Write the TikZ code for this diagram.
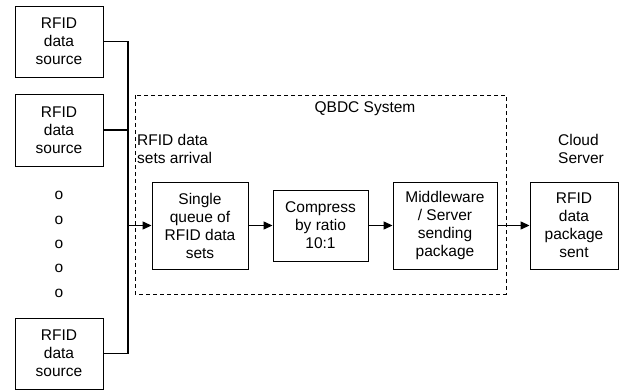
\documentclass[tikz,border=0pt]{standalone}
\usepackage{fontspec}
\setmainfont{Liberation Sans}
\usetikzlibrary{arrows.meta}
\tikzset{
  every node/.style={font=\fontsize{15.5}{18}\selectfont},
  blk/.style={draw, line width=0.9pt, align=center, inner sep=0pt},
  wire/.style={line width=1.3pt},
  arr/.style={wire, -{Triangle[length=9pt,width=8pt]}},
  frame/.style={draw, line width=0.8pt, dash pattern=on 4pt off 3pt},
  lbl/.style={align=left, inner sep=0pt}
}
\begin{document}
\begin{tikzpicture}[x=1pt, y=-1pt]
  \useasboundingbox (0,0) rectangle (620,390);

  % data sources
  \node[blk, minimum width=88pt, minimum height=71pt] (s1) at (59,41.5) {RFID\\data\\source};
  \node[blk, minimum width=88pt, minimum height=72pt] (s2) at (59,130) {RFID\\data\\source};
  \node[blk, minimum width=88pt, minimum height=71pt] (s3) at (59,353.5) {RFID\\data\\source};

  % ellipsis between sources
  \foreach \yy [count=\i] in {195,220,244,268.5,293}
    \node[inner sep=0pt] (dot\i) at (59,\yy) {o};

  % system boundary
  \draw[frame] (135,95) rectangle (506,294);
  \node (sys) at (365,109) {QBDC System};
  \node[lbl, anchor=north west] (arrival) at (137,134) {RFID data\\sets arrival};
  \node[lbl, anchor=north west] (cloud) at (558,134) {Cloud\\Server};

  % processing stages
  \node[blk, minimum width=96pt, minimum height=87pt] (q) at (200,225.5) {Single\\queue of\\RFID data\\sets};
  \node[blk, minimum width=95pt, minimum height=71pt] (c) at (320.5,225.5) {Compress\\by ratio\\10:1};
  \node[blk, minimum width=104pt, minimum height=87pt] (m) at (445,225.5) {Middleware\\/ Server\\sending\\package};
  \node[blk, minimum width=88pt, minimum height=87pt] (p) at (574,225.5) {RFID\\data\\package\\sent};

  % collecting bus
  \coordinate (j) at (128,225.5);
  \draw[wire] (s1.east) -| (j);
  \draw[wire] (s2.east) -| (j);
  \draw[wire] (s3.east) -| (j);
  \draw[arr] (j) -- (q.west);

  \draw[arr] (q.east) -- (c.west);
  \draw[arr] (c.east) -- (m.west);
  \draw[arr] (m.east) -- (p.west);
\end{tikzpicture}
\end{document}
